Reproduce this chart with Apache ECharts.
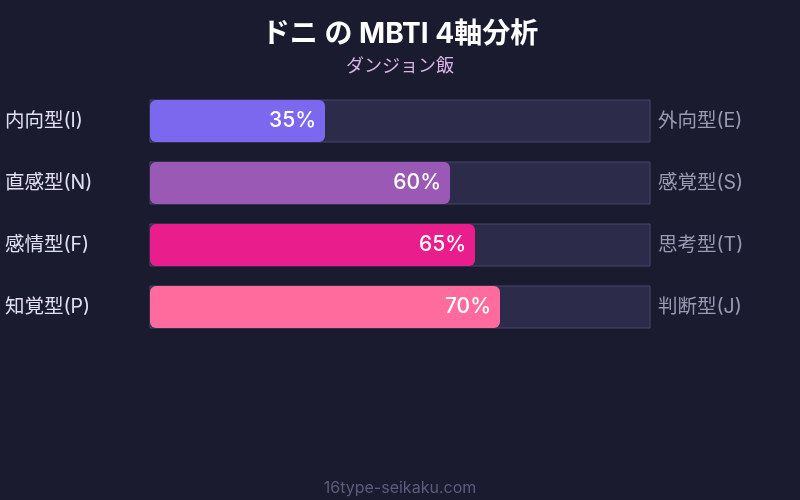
<!DOCTYPE html>
<html><head><meta charset="utf-8">
<script src="https://cdn.jsdelivr.net/npm/echarts@6/dist/echarts.min.js"></script>
<style>html,body{margin:0;padding:0;background:#1a1b2e;}#c{width:800px;height:500px;}</style>
</head><body><div id="c"></div>
<script>
const leftLabels = ['内向型(I)', '直感型(N)', '感情型(F)', '知覚型(P)'];
const rightLabels = ['外向型(E)', '感覚型(S)', '思考型(T)', '判断型(J)'];
const values = [35, 60, 65, 70];
const barColors = ['#7b68ee', '#9b59b6', '#e91e8c', '#ff6b9d'];
const FONT = "Inter, 'Noto Sans CJK JP', sans-serif";

const chart = echarts.init(document.getElementById('c'));
chart.setOption({
  backgroundColor: '#1a1b2e',
  textStyle: { fontFamily: FONT },
  title: [
    { text: 'ドニ の MBTI 4軸分析', left: 'center', top: 16,
      textStyle: { color: '#ffffff', fontSize: 28, fontWeight: 'bold', fontFamily: FONT } },
    { text: 'ダンジョン飯', left: 'center', top: 53,
      textStyle: { color: '#d9b3e6', fontSize: 18, fontWeight: 'normal', fontFamily: FONT } },
    { text: '16type-seikaku.com', left: 'center', top: 475,
      textStyle: { color: '#5c5c7e', fontSize: 16, fontWeight: 'normal', fontFamily: FONT } }
  ],
  grid: { left: 150, right: 150, top: 90, height: 248 },
  xAxis: { type: 'value', min: 0, max: 100, show: false },
  yAxis: [
    { type: 'category', data: leftLabels, inverse: true,
      axisLine: { show: false }, axisTick: { show: false },
      axisLabel: { color: '#e0e0f0', fontSize: 19.5, align: 'left', margin: 145, fontFamily: FONT } },
    { type: 'category', data: rightLabels, inverse: true, position: 'right',
      axisLine: { show: false }, axisTick: { show: false },
      axisLabel: { color: '#9a9ab2', fontSize: 19.5, align: 'left', margin: 8, fontFamily: FONT } }
  ],
  series: [{
    type: 'bar',
    yAxisIndex: 0,
    barWidth: 42,
    data: values.map((v, i) => ({ value: v, itemStyle: { color: barColors[i] } })),
    itemStyle: { borderRadius: 6 },
    showBackground: true,
    backgroundStyle: { color: '#2d2b4a', borderColor: '#47466a', borderWidth: 1 },
    label: { show: true, position: 'insideRight', distance: 9, formatter: '{c}%',
      color: '#ffffff', fontSize: 21, fontWeight: 500, fontFamily: FONT },
    animation: false
  }],
  animation: false
});
</script></body></html>
